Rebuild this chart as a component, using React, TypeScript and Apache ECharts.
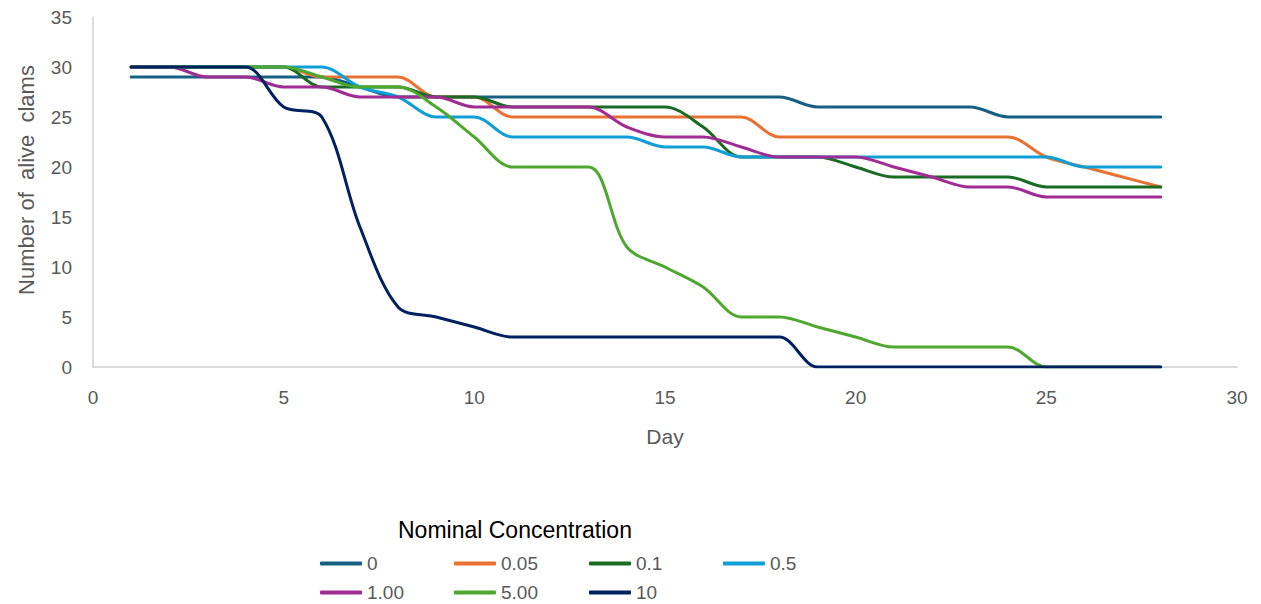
import React, { useEffect, useRef } from "react";
import * as echarts from "echarts";

const days = [1, 2, 3, 4, 5, 6, 7, 8, 9, 10, 11, 12, 13, 14, 15, 16, 17, 18, 19, 20, 21, 22, 23, 24, 25, 26, 27, 28];

const seriesNames = ["0", "0.05", "0.1", "0.5", "1.00", "5.00", "10"];
const seriesColors = ["#156082", "#E97132", "#196B24", "#0F9ED5", "#A02B93", "#4EA72E", "#002060"];

const conc0 = [29, 29, 29, 29, 29, 29, 28, 27, 27, 27, 27, 27, 27, 27, 27, 27, 27, 27, 26, 26, 26, 26, 26, 25, 25, 25, 25, 25];
const conc005 = [30, 30, 30, 30, 30, 29, 29, 29, 27, 27, 25, 25, 25, 25, 25, 25, 25, 23, 23, 23, 23, 23, 23, 23, 21, 20, 19, 18];
const conc01 = [30, 30, 30, 30, 30, 28, 28, 28, 27, 27, 26, 26, 26, 26, 26, 24, 21, 21, 21, 20, 19, 19, 19, 19, 18, 18, 18, 18];
const conc05 = [30, 30, 30, 30, 30, 30, 28, 27, 25, 25, 23, 23, 23, 23, 22, 22, 21, 21, 21, 21, 21, 21, 21, 21, 21, 20, 20, 20];
const conc1 = [30, 30, 29, 29, 28, 28, 27, 27, 27, 26, 26, 26, 26, 24, 23, 23, 22, 21, 21, 21, 20, 19, 18, 18, 17, 17, 17, 17];
const conc5 = [30, 30, 30, 30, 30, 29, 28, 28, 26, 23, 20, 20, 20, 12, 10, 8, 5, 5, 4, 3, 2, 2, 2, 2, 0, 0, 0, 0];
const conc10 = [30, 30, 30, 30, 26, 25, 14, 6, 5, 4, 3, 3, 3, 3, 3, 3, 3, 3, 0, 0, 0, 0, 0, 0, 0, 0, 0, 0];

const allValues = [conc0, conc005, conc01, conc05, conc1, conc5, conc10];

const xTicks = { min: 0, max: 30, interval: 5 };
const yTicks = { min: 0, max: 35, interval: 5 };

const FONT = "'Liberation Sans', Arial, sans-serif";
const legendPos = [
  { left: 315, top: 549 },
  { left: 449, top: 549 },
  { left: 584, top: 549 },
  { left: 718, top: 549 },
  { left: 315, top: 578 },
  { left: 449, top: 578 },
  { left: 584, top: 578 },
];

export default function App() {
  const ref = useRef<HTMLDivElement>(null);
  useEffect(() => {
    if (!ref.current) return;
    const chart = echarts.init(ref.current, undefined, { renderer: "svg" });
    const axisLineColor = "#d0d0d0";
    chart.setOption({
      animation: false,
      backgroundColor: "#ffffff",
      textStyle: { fontFamily: FONT },
      title: {
        text: "Nominal Concentration",
        left: 393,
        top: 513,
        textStyle: { fontFamily: FONT, fontSize: 23, fontWeight: "normal", color: "#000000" },
      },
      legend: seriesNames.map((n, i) => ({
        data: [n],
        left: legendPos[i].left,
        top: legendPos[i].top,
        icon: "roundRect",
        itemWidth: 42,
        itemHeight: 4,
        textStyle: { fontFamily: FONT, fontSize: 19, color: "#595959" },
      })),
      grid: { left: 93, right: 24, top: 17, bottom: 237, containLabel: false },
      xAxis: {
        type: "value",
        min: xTicks.min,
        max: xTicks.max,
        interval: xTicks.interval,
        name: "Day",
        nameLocation: "middle",
        nameGap: 59,
        nameTextStyle: { fontFamily: FONT, fontSize: 21, color: "#595959" },
        axisLine: { show: true, lineStyle: { color: axisLineColor, width: 1.5 } },
        axisTick: { show: false },
        splitLine: { show: false },
        axisLabel: { fontFamily: FONT, fontSize: 19, color: "#595959", margin: 21 },
      },
      yAxis: {
        type: "value",
        min: yTicks.min,
        max: yTicks.max,
        interval: yTicks.interval,
        name: "Number of  alive  clams",
        nameLocation: "middle",
        nameGap: 56,
        nameTextStyle: { fontFamily: FONT, fontSize: 22, color: "#595959", padding: [0, 0, 0, 24] },
        axisLine: { show: true, lineStyle: { color: axisLineColor, width: 1.5 } },
        axisTick: { show: false },
        splitLine: { show: false },
        axisLabel: { fontFamily: FONT, fontSize: 19, color: "#595959", margin: 21 },
      },
      series: seriesNames.map((n, i) => ({
        name: n,
        type: "line",
        smooth: 0.33,
        symbol: "none",
        data: days.map((d, j) => [d, allValues[i][j]]),
        lineStyle: { color: seriesColors[i], width: 3, cap: "round", join: "round" },
        itemStyle: { color: seriesColors[i] },
      })),
    });
    return () => chart.dispose();
  }, []);
  return (
    <div
      ref={ref}
      style={{ position: "fixed", left: 0, top: 0, width: 1261, height: 604 }}
    />
  );
}
